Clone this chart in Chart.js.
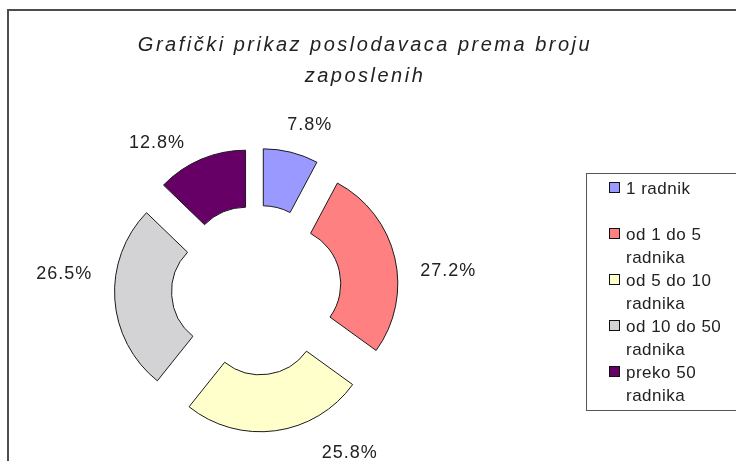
<!DOCTYPE html>
<html>
<head>
<meta charset="utf-8">
<script src="https://cdn.jsdelivr.net/npm/chart.js@4/dist/chart.umd.min.js"></script>
<style>
  html, body { margin: 0; padding: 0; background: #fff; }
  canvas { display: block; }
</style>
</head>
<body>
<canvas id="grafikon" width="736" height="461"></canvas>
<script>
// podaci
const kategorije = ['1 radnik', 'od 1 do 5 radnika', 'od 5 do 10 radnika', 'od 10 do 50 radnika', 'preko 50 radnika'];
const postoci = [7.8, 27.2, 25.8, 26.5, 12.8];
const boje = ['#9999FF', '#FF8080', '#FFFFCC', '#D3D3D6', '#660066'];
const naslov = ['Grafički prikaz poslodavaca prema broju', 'zaposlenih'];

const FONT = '"Liberation Sans", Arial, sans-serif';
const POMAK = 28; // koliko su kriške izvučene iz sredine

// Excel "explode": svaku krišku pomakni duž njene simetrale
const izvuci = {
    id: 'izvuci',
    afterUpdate(chart) {
        chart.getDatasetMeta(0).data.forEach(arc => {
            if (arc._izvuceno) return;
            const crtaj = arc.draw;
            arc.draw = function(ctx) {
                const kut = (this.startAngle + this.endAngle) / 2;
                ctx.save();
                ctx.translate(Math.cos(kut) * POMAK, Math.sin(kut) * POMAK);
                crtaj.call(this, ctx);
                ctx.restore();
            };
            arc._izvuceno = true;
        });
    }
};

// postotci izvan kriški
const natpisi = {
    id: 'natpisi',
    afterDatasetsDraw(chart, args, opts) {
        const ctx = chart.ctx;
        ctx.save();
        ctx.font = '18px ' + FONT;
        ctx.letterSpacing = '1px';
        ctx.fillStyle = '#222';
        ctx.textAlign = 'center';
        ctx.textBaseline = 'middle';
        chart.getDatasetMeta(0).data.forEach((arc, i) => {
            const kut = (arc.startAngle + arc.endAngle) / 2 + opts.kutovi[i] * Math.PI / 180;
            const r = arc.outerRadius + POMAK + opts.razmak + opts.dodatak[i];
            const tekst = postoci[i].toFixed(1) + '%';
            const w = ctx.measureText(tekst).width;
            const x = arc.x + Math.cos(kut) * r + Math.cos(kut) * w / 2;
            const y = arc.y + Math.sin(kut) * r + Math.sin(kut) * 7;
            ctx.fillText(tekst, x, y);
        });
        ctx.restore();
    }
};

function prelomi(ctx, tekst, max) {
    const rijeci = tekst.split(' ');
    const redovi = [];
    let red = '';
    rijeci.forEach(r => {
        const probni = red ? red + ' ' + r : r;
        if (red && ctx.measureText(probni).width > max) {
            redovi.push(red);
            red = r;
        } else {
            red = probni;
        }
    });
    redovi.push(red);
    return redovi;
}

// okvir, naslov i legenda u stilu starog Excela
const okvir = {
    id: 'okvir',
    afterDraw(chart) {
        const ctx = chart.ctx;
        ctx.save();

        // vanjski okvir grafikona
        ctx.strokeStyle = '#4d4d4d';
        ctx.lineWidth = 2;
        ctx.strokeRect(8, 10, 900, 600);

        // naslov
        ctx.fillStyle = '#222';
        ctx.font = 'italic 20px ' + FONT;
        ctx.letterSpacing = '2.5px';
        ctx.textAlign = 'center';
        ctx.textBaseline = 'alphabetic';
        naslov.forEach((red, i) => ctx.fillText(red, 365, 51 + i * 31));

        // legenda
        ctx.strokeStyle = '#555';
        ctx.lineWidth = 1;
        ctx.strokeRect(586.5, 173.5, 300, 237);
        ctx.font = '17px ' + FONT;
        ctx.letterSpacing = '0.5px';
        ctx.textAlign = 'left';
        ctx.textBaseline = 'middle';
        kategorije.forEach((k, i) => {
            const y = 189 + i * 46;
            ctx.fillStyle = boje[i];
            ctx.fillRect(609.5, y - 6.5, 10, 10);
            ctx.strokeStyle = '#111';
            ctx.strokeRect(609.5, y - 6.5, 10, 10);
            ctx.fillStyle = '#222';
            prelomi(ctx, k, 100).forEach((red, j) => ctx.fillText(red, 626, y + j * 23));
        });
        ctx.restore();
    }
};

new Chart(document.getElementById('grafikon'), {
    type: 'doughnut',
    data: {
        labels: kategorije,
        datasets: [{
            data: postoci,
            backgroundColor: boje,
            borderColor: '#1a1a1a',
            borderWidth: 1,
            borderJoinStyle: 'miter',
            hoverOffset: 0,
            clip: false
        }]
    },
    options: {
        responsive: false,
        devicePixelRatio: 1,
        animation: false,
        radius: 114,
        cutout: '50%',
        layout: { padding: { left: 0, right: 223, top: 180, bottom: 61 } },
        plugins: {
            legend: { display: false },
            title: { display: false },
            tooltip: { enabled: false },
            natpisi: {
                razmak: 23,
                kutovi: [2.5, 6.6, -19.5, 9.0, -8],
                dodatak: [0, 0, 11, 0, 0]
            }
        }
    },
    plugins: [izvuci, natpisi, okvir]
});
</script>
</body>
</html>
